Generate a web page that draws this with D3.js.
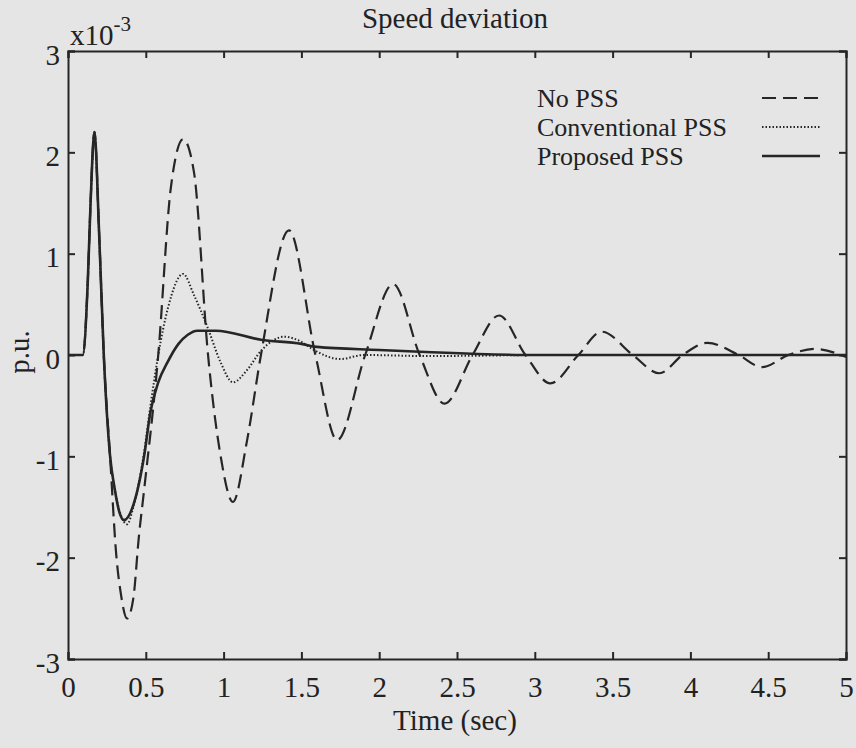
<!DOCTYPE html>
<html>
<head>
<meta charset="utf-8">
<script src="https://cdn.jsdelivr.net/npm/d3@7"></script>
<style>
  html, body { margin: 0; padding: 0; background: #e4e4e4; }
  svg { display: block; }
  text { font-family: 'Liberation Serif', 'Times New Roman', serif; fill: #222; }
</style>
</head>
<body>
<div id="chart"></div>
<script>
(function() {

  // time (sec) and speed deviation (x1e-3 p.u.)
  var noPssT = [0, 0.095, 0.127, 0.145, 0.17, 0.2, 0.23, 0.27, 0.31, 0.34, 0.38, 0.42, 0.455, 0.49,
                0.58, 0.66, 0.74, 0.81, 0.9, 0.98, 1.06, 1.15, 1.24, 1.42, 1.59, 1.73, 1.91, 2.09,
                2.26, 2.42, 2.6, 2.77, 2.94, 3.1, 3.28, 3.43, 3.63, 3.8, 3.95, 4.11, 4.31, 4.46,
                4.63, 4.8, 5.0];
  var noPssV = [0, 0, 0.72, 1.5, 2.2, 1.2, 0, -0.99, -1.97, -2.36, -2.6, -2.4, -1.8, -1.32,
                0, 1.64, 2.13, 1.8, 0, -0.99, -1.45, -0.85, 0, 1.23, 0, -0.84, 0, 0.7,
                0, -0.48, 0, 0.39, 0, -0.28, 0, 0.23, 0, -0.18, 0, 0.12, 0, -0.12,
                0, 0.06, -0.02];

  var convT = [0, 0.095, 0.127, 0.145, 0.17, 0.2, 0.23, 0.27, 0.3, 0.34, 0.38, 0.42, 0.49, 0.53,
               0.58, 0.64, 0.74, 0.81, 0.9, 0.98, 1.06, 1.15, 1.24, 1.39, 1.5, 1.58, 1.75, 1.9,
               2.3, 2.95];
  var convV = [0, 0, 0.72, 1.5, 2.2, 1.2, 0, -0.99, -1.32, -1.58, -1.67, -1.5, -0.95, -0.5,
               0, 0.45, 0.8, 0.59, 0.26, -0.07, -0.27, -0.15, 0.04, 0.18, 0.13, 0.05, -0.04, 0,
               -0.01, 0];

  var propT = [0, 0.095, 0.127, 0.145, 0.17, 0.2, 0.23, 0.27, 0.3, 0.33, 0.36, 0.42, 0.49, 0.53,
               0.58, 0.64, 0.71, 0.77, 0.83, 0.95, 1.24, 1.5, 1.6, 2.0, 2.3, 3.0, 5.0];
  var propV = [0, 0, 0.72, 1.5, 2.2, 1.2, 0, -0.99, -1.32, -1.55, -1.63, -1.48, -0.99, -0.56,
               -0.27, -0.07, 0.11, 0.2, 0.24, 0.24, 0.15, 0.11, 0.08, 0.05, 0.03, 0, 0];

  var seriesNames = ['No PSS', 'Conventional PSS', 'Proposed PSS'];
  var xTicks = [0, 0.5, 1, 1.5, 2, 2.5, 3, 3.5, 4, 4.5, 5];
  var yTicks = [-3, -2, -1, 0, 1, 2, 3];

  var width = 856, height = 748,
      margin = {top: 51, right: 10, bottom: 89, left: 68},
      ink = '#262626';

  var svg = d3.select('#chart')
    .append('svg')
    .attr('width', width)
    .attr('height', height);

  svg.append('rect')
    .attr('width', width)
    .attr('height', height)
    .attr('fill', '#e5e5e5');

  var x = d3.scaleLinear()
    .domain([0, 5])
    .range([margin.left, width - margin.right]);

  var y = d3.scaleLinear()
    .domain([-3, 3])
    .range([height - margin.bottom, margin.top]);

  // inward ticks on all four sides
  var bottom = svg.append('g')
    .attr('transform', 'translate(0,' + y(-3) + ')')
    .call(d3.axisBottom(x).tickValues(xTicks).tickSize(-7).tickFormat(function(d) { return String(d); }));
  bottom.selectAll('text').attr('y', 38).attr('dy', 0).style('font-size', '29px');

  var left = svg.append('g')
    .attr('transform', 'translate(' + x(0) + ',0)')
    .call(d3.axisLeft(y).tickValues(yTicks).tickSize(-7).tickFormat(function(d) { return String(d); }));
  left.selectAll('text').attr('x', -8).attr('y', 13).attr('dy', 0).style('font-size', '29px');

  svg.append('g')
    .attr('transform', 'translate(0,' + y(3) + ')')
    .call(d3.axisTop(x).tickValues(xTicks).tickSize(-7).tickFormat(''));

  svg.append('g')
    .attr('transform', 'translate(' + x(5) + ',0)')
    .call(d3.axisRight(y).tickValues(yTicks).tickSize(-7).tickFormat(''));

  svg.selectAll('.domain, .tick line')
    .attr('stroke', ink)
    .attr('stroke-width', 2);

  // the series
  var line = d3.line()
    .x(function(d) { return x(d[0]); })
    .y(function(d) { return y(d[1]); })
    .curve(d3.curveMonotoneX);

  var styles = [
    {t: noPssT, v: noPssV, dash: '14,7', w: 2.2},
    {t: convT, v: convV, dash: '1.5,2', w: 2},
    {t: propT, v: propV, dash: null, w: 2.6}
  ];

  styles.forEach(function(s) {
    svg.append('path')
      .datum(d3.zip(s.t, s.v))
      .attr('d', line)
      .attr('fill', 'none')
      .attr('stroke', ink)
      .attr('stroke-width', s.w)
      .attr('stroke-dasharray', s.dash);
  });

  // legend
  var legend = svg.append('g');
  seriesNames.forEach(function(name, i) {
    var by = 107 + i * 29;
    legend.append('text')
      .attr('x', 537)
      .attr('y', by)
      .style('font-size', '26px')
      .text(name);
    legend.append('line')
      .attr('x1', 762).attr('x2', 820)
      .attr('y1', by - 9).attr('y2', by - 9)
      .attr('stroke', ink)
      .attr('stroke-width', styles[i].w)
      .attr('stroke-dasharray', styles[i].dash);
  });

  // titles
  svg.append('text')
    .attr('x', 455)
    .attr('y', 28)
    .attr('text-anchor', 'middle')
    .style('font-size', '29px')
    .text('Speed deviation');

  var expo = svg.append('text')
    .attr('x', 70)
    .attr('y', 45)
    .style('font-size', '29px')
    .text('x10');
  expo.append('tspan')
    .attr('dy', -14)
    .style('font-size', '21px')
    .text('-3');

  svg.append('text')
    .attr('x', 455)
    .attr('y', 730)
    .attr('text-anchor', 'middle')
    .style('font-size', '29px')
    .text('Time (sec)');

  svg.append('text')
    .attr('transform', 'translate(29,352) rotate(-90)')
    .attr('text-anchor', 'middle')
    .style('font-size', '29px')
    .text('p.u.');

})();
</script>
</body>
</html>
